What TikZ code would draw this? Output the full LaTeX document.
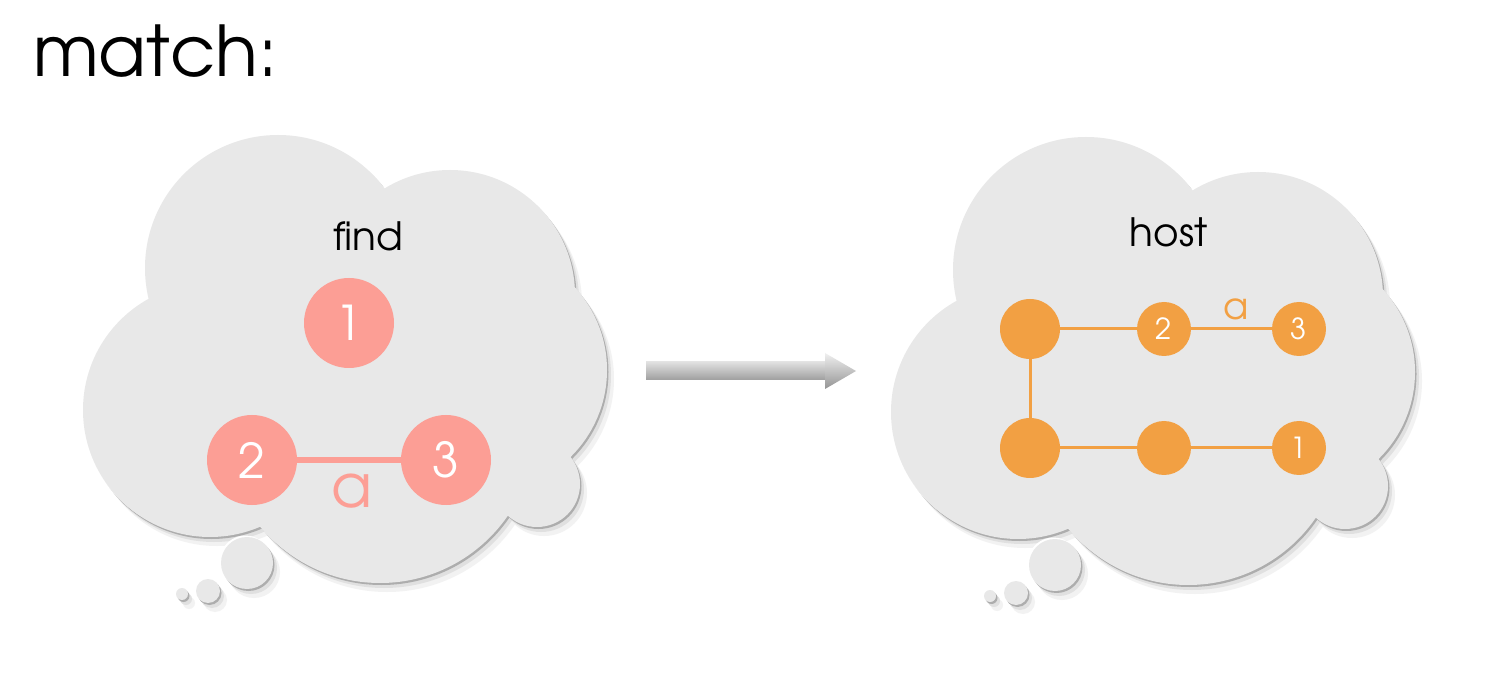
\documentclass[tikz,border=0pt]{standalone}
\usepackage{fontspec}
\setmainfont{texgyreadventor-regular.otf}
\definecolor{salmon}{HTML}{FC9E95}
\definecolor{orng}{HTML}{F2A043}
\definecolor{cloudfill}{HTML}{E8E8E8}
\newcommand\cloudshape{%
 (278,268) circle[radius=133pt]
 (450,295) circle[radius=125pt]
 (485,370) circle[radius=122pt]
 (537,484) circle[radius=43pt]
 (380,428) circle[radius=155pt]
 (210,410) circle[radius=127pt]
 (247,563) circle[radius=26pt]
 (208,591) circle[radius=12pt]
 (182,594) circle[radius=6pt]}
\newcommand\drawcloud[1]{%
 \begin{scope}[shift={#1}]
  \fill[black!5, shift={(7,9)}] \cloudshape;
  \fill[black!12, shift={(4,5)}] \cloudshape;
  \fill[black!32, shift={(1.5,2)}] \cloudshape;
  \fill[white, shift={(-1.5,-1.5)}] \cloudshape;
  \fill[cloudfill] \cloudshape;
 \end{scope}}
\tikzset{
  lnode/.style={circle, fill=salmon, minimum size=90pt, inner sep=0pt, text=white, font=\fontsize{48}{48}\selectfont},
  rnode/.style={circle, fill=orng, minimum size=54pt, inner sep=0pt, text=white, font=\fontsize{29}{29}\selectfont},
  bignode/.style={circle, fill=orng, minimum size=60pt, inner sep=0pt},
  ttl/.style={anchor=base, text=black, font=\fontsize{39}{39}\selectfont},
  ledge/.style={draw=salmon, line width=6pt},
  redge/.style={draw=orng, line width=3pt}
}
\begin{document}
\begin{tikzpicture}[x=1pt,y=-1pt]
\fill[white] (0,0) rectangle (1500,700);
\useasboundingbox (0,0) rectangle (1500,700);

\node[anchor=base west, font=\fontsize{70}{70}\selectfont, inner sep=0pt] (title) at (33,77) {match:};

% left cloud
\drawcloud{(0,0)}
\node[ttl] (find) at (368,251) {find};
\node[lnode] (f1) at (349,323) {1};
\node[lnode] (f2) at (252,460) {2};
\node[lnode] (f3) at (446,460) {3};
\draw[ledge] (f2) -- (f3);
\node[text=salmon, font=\fontsize{60}{60}\selectfont, inner sep=0pt] (fa) at (352,491) {a};

% arrow
\coordinate (arrS) at (646,371);
\coordinate (arrE) at (856,371);
\shade[top color=black!12, middle color=white, bottom color=black!38] ([yshift=-9pt]arrS) rectangle ([xshift=-30pt,yshift=9pt]arrE);
\shade[top color=black!6, bottom color=black!42] ([xshift=-31pt,yshift=-18pt]arrE) -- (arrE) -- ([xshift=-31pt,yshift=18pt]arrE) -- cycle;

% right cloud
\drawcloud{(808,2)}
\node[ttl] (host) at (1169,247) {host};
\node[bignode] (h1) at (1030,329) {};
\node[rnode] (h2) at (1164,329) {2};
\node[rnode] (h3) at (1299,329) {3};
\node[bignode] (h4) at (1030,448) {};
\node[rnode] (h5) at (1164,448) {};
\node[rnode] (h6) at (1299,448) {1};
\draw[redge] (h1) -- (h2);
\draw[redge] (h2) -- (h3);
\draw[redge] (h1) -- (h4);
\draw[redge] (h4) -- (h5);
\draw[redge] (h5) -- (h6);
\node[text=orng, font=\fontsize{37}{37}\selectfont, inner sep=0pt] (ha) at (1236,309) {a};
\end{tikzpicture}
\end{document}
